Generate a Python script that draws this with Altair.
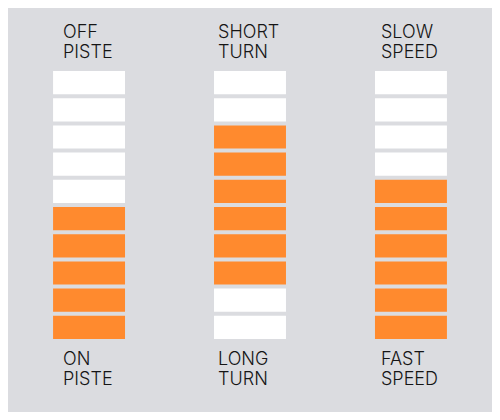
import altair as alt
import pandas as pd

columns = ["c1", "c2", "c3"]
top_labels = ["OFF\nPISTE", "SHORT\nTURN", "SLOW\nSPEED"]
bottom_labels = ["ON\nPISTE", "LONG\nTURN", "FAST\nSPEED"]
# 1 = orange (filled), 0 = white, cells listed top to bottom
levels = [
    [0, 0, 0, 0, 0, 1, 1, 1, 1, 1],
    [0, 0, 1, 1, 1, 1, 1, 1, 0, 0],
    [0, 0, 0, 0, 1, 1, 1, 1, 1, 1],
]

label_dx = [10, 4, 6]
BG = "#dbdce0"
ORANGE = "#ff8a2e"

rows = []
for c, col in enumerate(columns):
    for i, v in enumerate(levels[c]):
        rows.append({"col": col, "cell": i + 1, "state": "on" if v else "off"})
cells = pd.DataFrame(rows)
labels = pd.DataFrame({"col": columns, "top": top_labels, "bottom": bottom_labels})

xscale = alt.Scale(domain=columns, paddingInner=0.553, paddingOuter=0.28)
yscale = alt.Scale(range=[63, 331], paddingInner=0.147, paddingOuter=0)

rects = alt.Chart(cells).mark_rect().encode(
    x=alt.X("col:N", scale=xscale, axis=None),
    y=alt.Y("cell:O", scale=yscale, axis=None),
    color=alt.Color("state:N", scale=alt.Scale(domain=["off", "on"], range=["#ffffff", ORANGE]), legend=None),
)

layers = [rects]
for c, col in enumerate(columns):
    base = alt.Chart(labels).transform_filter(alt.datum.col == col)
    style = dict(align="left", baseline="alphabetic", dx=label_dx[c], fontSize=18,
                 fontWeight=300, lineHeight=20.7, lineBreak="\n", font="Inter", color="#151515")
    layers.append(base.mark_text(**style).encode(
        x=alt.X("col:N", scale=xscale, axis=None, bandPosition=0),
        y=alt.value(29.5), text="top:N"))
    layers.append(base.mark_text(**style).encode(
        x=alt.X("col:N", scale=xscale, axis=None, bandPosition=0),
        y=alt.value(356.5), text="bottom:N"))

chart = alt.layer(*layers).properties(
    width=484, height=404, autosize=alt.AutoSizeParams(type="none")
).configure(background=BG, padding=0).configure_view(stroke=None, fill=BG)

chart.save("out.html", embed_options={"renderer": "svg", "actions": False})
